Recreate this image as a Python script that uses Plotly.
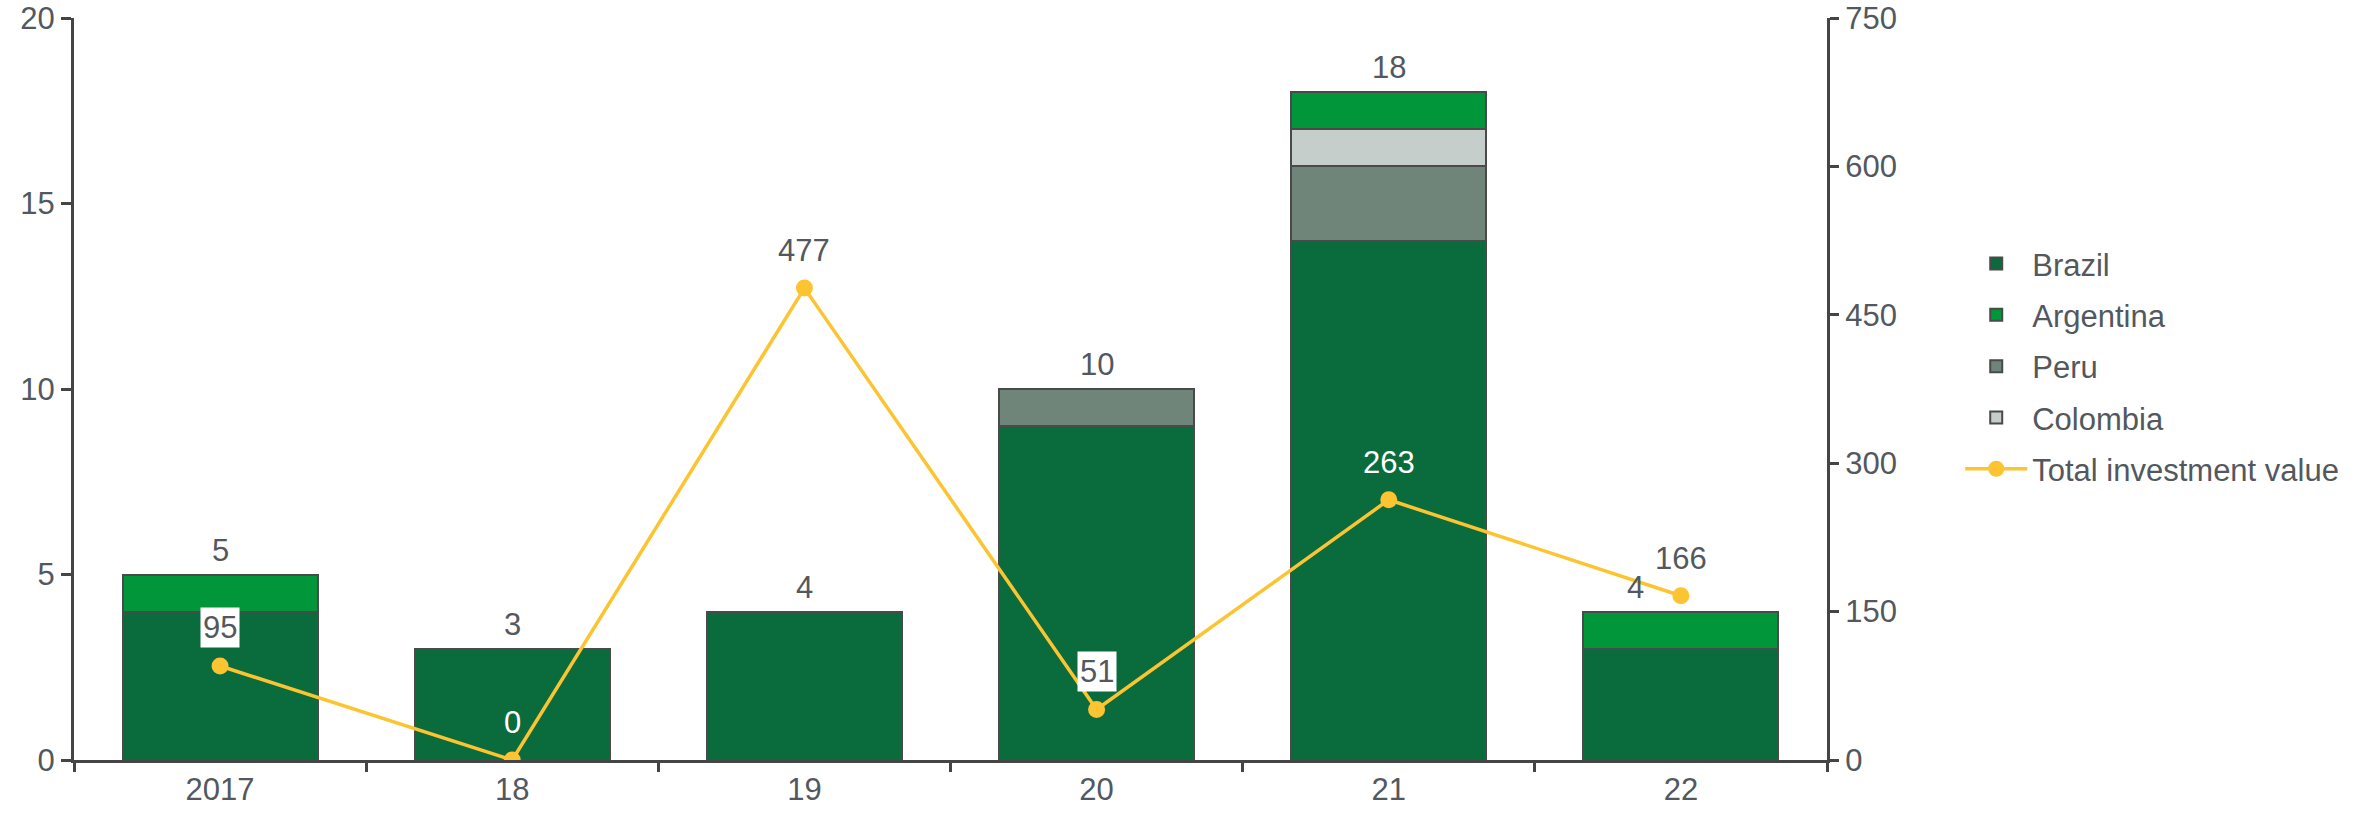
import plotly.graph_objects as go

years = ["2017", "18", "19", "20", "21", "22"]
brazil = [4, 3, 4, 9, 14, 3]
argentina = [1, 0, 0, 0, 1, 1]
peru = [0, 0, 0, 1, 2, 0]
colombia = [0, 0, 0, 0, 1, 0]
totals = [5, 3, 4, 10, 18, 4]
investment = [95, 0, 477, 51, 263, 166]

# label styling per point (not data)
inv_label_style = ["box", "white", "plain", "box", "white", "plain"]
total_label_xshift = [0, 0, 0, 0, 0, -45]

FONT = "Liberation Sans, Arial, sans-serif"
TXT = "#53585e"
AX = "#454545"
FS = 31

fig = go.Figure()
series = [
    ("Brazil", brazil, "#0a6b3d", 1),
    ("Peru", peru, "#70857a", 3),
    ("Colombia", colombia, "#c5cecb", 4),
    ("Argentina", argentina, "#009639", 2),
]
for name, vals, col, rank in series:
    fig.add_trace(go.Bar(
        x=years, y=vals, name=name, legendrank=rank, legendgroup=name,
        marker=dict(color=col, line=dict(color="#4a4a4a", width=2)),
        hoverinfo="skip",
    ))

fig.add_trace(go.Scatter(
    x=years, y=investment, yaxis="y2", name="Total investment value",
    legendrank=5, legendgroup="inv", mode="lines+markers",
    line=dict(color="#fcc431", width=3.5),
    marker=dict(color="#fcc431", size=17),
))

ann = []
for i, t in enumerate(totals):
    ann.append(dict(x=i, y=t, xref="x", yref="y", text=str(t), showarrow=False,
                    yanchor="bottom", yshift=5, xshift=total_label_xshift[i],
                    font=dict(family=FONT, size=FS, color=TXT)))
for i, v in enumerate(investment):
    st = inv_label_style[i]
    d = dict(x=i, y=v, xref="x", yref="y2", text=str(v), showarrow=False,
             yanchor="bottom", yshift=18, font=dict(family=FONT, size=FS, color=TXT))
    if st == "box":
        d.update(bgcolor="white", borderpad=2)
    elif st == "white":
        d["font"] = dict(family=FONT, size=FS, color="white")
    ann.append(d)

fig.update_layout(
    width=2356, height=822,
    margin=dict(l=74, r=527, t=18, b=62),
    barmode="stack", bargap=0.333,
    plot_bgcolor="white", paper_bgcolor="white",
    font=dict(family=FONT, size=FS, color=TXT),
    xaxis=dict(type="category", range=[-0.5, 5.5], showgrid=False, automargin=False,
               showline=True, linecolor=AX, linewidth=3,
               ticks="outside", tickson="boundaries", ticklen=9, tickwidth=3,
               tickcolor=AX, tickfont=dict(family=FONT, size=FS, color=TXT)),
    yaxis=dict(range=[0, 20], dtick=5, showgrid=False, zeroline=False, automargin=False,
               showline=True, linecolor=AX, linewidth=3,
               ticks="outside", ticklen=10, tickwidth=3, tickcolor=AX,
               tickfont=dict(family=FONT, size=FS, color=TXT)),
    yaxis2=dict(range=[0, 750], dtick=150, overlaying="y", side="right",
                showgrid=False, zeroline=False, automargin=False,
                showline=True, linecolor=AX, linewidth=3,
                ticks="outside", ticklen=9, tickwidth=3, tickcolor=AX,
                tickfont=dict(family=FONT, size=FS, color=TXT)),
    legend=dict(x=1.076, y=0.705, xanchor="left", yanchor="top",
                font=dict(family=FONT, size=FS, color=TXT),
                tracegroupgap=8, itemwidth=62, bgcolor="rgba(0,0,0,0)"),
    annotations=ann,
    showlegend=True,
)

fig.write_html("out.html", config={"displayModeBar": False},
               post_script="document.body.style.margin='0px';")
